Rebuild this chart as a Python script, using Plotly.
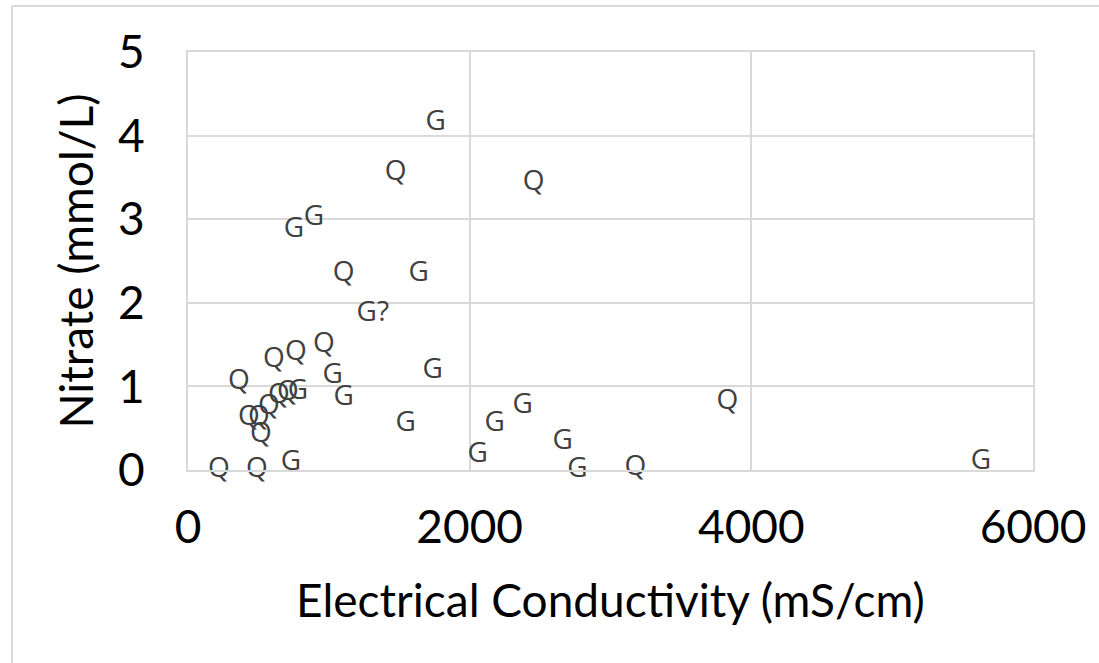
import plotly.graph_objects as go

# Data
labels = ["Q", "Q", "G", "Q", "Q", "Q", "Q", "G", "G", "G", "Q", "Q", "Q", "Q", "Q", "Q",
          "G", "G", "Q", "G", "G?", "G", "Q", "Q", "G", "G", "G", "G", "G", "G", "G", "Q",
          "Q", "G"]
conductivity = [220, 490, 730, 362, 610, 766, 965, 1028, 1106, 780, 709, 645, 574, 433, 504, 518,
                752, 894, 1106, 1638, 1312, 1759, 1475, 2454, 1738, 1546, 2057, 2177, 2376, 2660, 2766, 3177,
                3830, 5631]
nitrate = [0.0, 0.0, 0.08, 1.05, 1.31, 1.40, 1.49, 1.13, 0.86, 0.93, 0.92, 0.89, 0.75, 0.62, 0.62, 0.42,
           2.87, 3.01, 2.35, 2.35, 1.87, 4.15, 3.55, 3.43, 1.18, 0.55, 0.18, 0.55, 0.76, 0.33, 0.0, 0.02,
           0.81, 0.1]

x_ticks = [0, 2000, 4000, 6000]
y_ticks = [0, 1, 2, 3, 4, 5]

W, H = 1099, 663
ML, MR, MT, MB = 188, 66, 52, 193

fig = go.Figure()
fig.add_trace(go.Scatter(
    x=conductivity, y=nitrate, text=labels, mode="text",
    textposition="middle center",
    textfont=dict(family="Open Sans", size=28, color="#404040"),
    cliponaxis=False, hoverinfo="x+y+text", showlegend=False,
))

grid = "#d9d9d9"
fig.update_xaxes(
    range=[0, 6000], tickvals=x_ticks, ticktext=[str(v) for v in x_ticks],
    showgrid=True, gridcolor=grid, gridwidth=2, zeroline=False,
    showline=True, linecolor=grid, linewidth=2, mirror=True,
    ticks="outside", ticklen=0, tickcolor="rgba(0,0,0,0)",
    ticklabelstandoff=16,
    tickfont=dict(family="Lato", size=46, color="#000000"),
    title=dict(text="Electrical Conductivity (mS/cm)", standoff=33,
               font=dict(family="Lato", size=46, color="#000000")),
)
fig.update_yaxes(
    range=[0, 5], tickvals=y_ticks, ticktext=[str(v) for v in y_ticks],
    showgrid=True, gridcolor=grid, gridwidth=2, zeroline=False,
    showline=True, linecolor=grid, linewidth=2, mirror=True,
    ticks="outside", ticklen=0, tickcolor="rgba(0,0,0,0)",
    ticklabelstandoff=32,
    tickfont=dict(family="Lato", size=46, color="#000000"),
    title=dict(text="Nitrate (mmol/L)", standoff=10,
               font=dict(family="Lato", size=46, color="#000000")),
)

pw = W - ML - MR
ph = H - MT - MB
def px_x(p):
    return (p - ML) / pw
def px_y(p):
    return (H - MB - p) / ph

fig.add_shape(type="line", xref="paper", yref="paper",
              x0=px_x(12), x1=px_x(12), y0=px_y(6), y1=px_y(H + 5),
              line=dict(color=grid, width=2))
fig.add_shape(type="line", xref="paper", yref="paper",
              x0=px_x(12), x1=px_x(W + 5), y0=px_y(6), y1=px_y(6),
              line=dict(color=grid, width=2))

fig.update_layout(
    width=W, height=H,
    margin=dict(l=ML, r=MR, t=MT, b=MB, pad=0),
    paper_bgcolor="white", plot_bgcolor="white",
)

fig.write_html("out.html", config={"displayModeBar": False},
               post_script="document.body.style.margin='0';document.body.style.overflow='hidden';")
